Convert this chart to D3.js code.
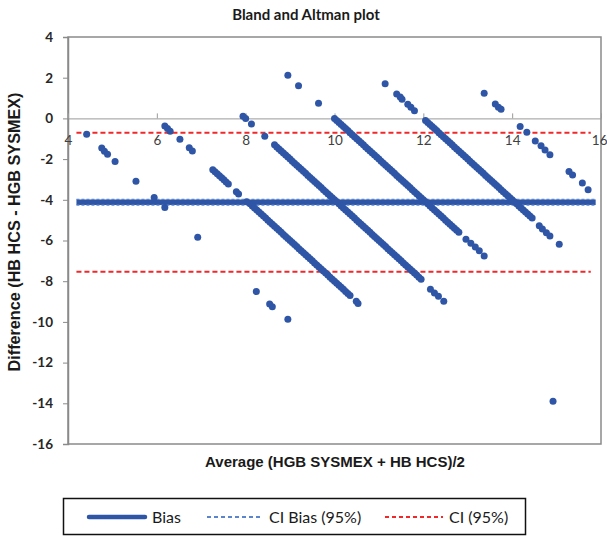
<!DOCTYPE html>
<html>
<head>
<meta charset="utf-8">
<script src="https://cdn.jsdelivr.net/npm/d3@7"></script>
<style>
  html, body { margin: 0; padding: 0; background: #fff; }
  svg { display: block; }
</style>
</head>
<body>
<div id="chart"></div>
<script>
// ---------------- DATA ----------------
const xTicks = [4, 6, 8, 10, 12, 14, 16];
const yTicks = [4, 2, 0, -2, -4, -6, -8, -10, -12, -14, -16];

const biasValue = -4.12;
const ciBiasUpper = -3.98;
const ciBiasLower = -4.26;
const ciUpper = -0.70;
const ciLower = -7.54;
const lineStartAvg = 4.19;
const biasEndAvg = 15.88;
const ciEndAvg = 15.77;

// points grouped by HB HCS level (average, difference)
const avgH4  = [4.42, 4.76, 4.82, 4.89, 5.06, 5.53, 5.94, 6.18, 6.92, 8.24, 8.54, 8.60, 8.95];
const diffH4 = [-0.78, -1.46, -1.62, -1.76, -2.12, -3.09, -3.89, -4.38, -5.84, -8.51, -9.12, -9.26, -9.87];

const avgH6  = [6.18, 6.24, 6.30, 6.52, 6.73, 6.80,
  7.26, 7.31, 7.36, 7.41, 7.46, 7.51, 7.56, 7.61, 7.79, 7.84, 8.02,
  8.10, 8.15, 8.20, 8.25, 8.30, 8.35, 8.40, 8.45, 8.50, 8.55, 8.60, 8.65, 8.70, 8.75, 8.80, 8.85, 8.90, 8.95, 9.00, 9.05,
  9.10, 9.15, 9.20, 9.25, 9.30, 9.35, 9.40, 9.45, 9.50, 9.55, 9.60, 9.65, 9.70, 9.75, 9.80, 9.85, 9.90, 9.95, 10.00, 10.05,
  10.10, 10.15, 10.20, 10.25, 10.30, 10.35, 10.49, 10.53];
const diffH6 = [-0.37, -0.50, -0.63, -1.02, -1.44, -1.60,
  -2.52, -2.62, -2.72, -2.82, -2.92, -3.02, -3.12, -3.22, -3.60, -3.72, -4.10,
  -4.2, -4.3, -4.4, -4.5, -4.6, -4.7, -4.8, -4.9, -5.0, -5.1, -5.2, -5.3, -5.4, -5.5, -5.6, -5.7, -5.8, -5.9, -6.0, -6.1,
  -6.2, -6.3, -6.4, -6.5, -6.6, -6.7, -6.8, -6.9, -7.0, -7.1, -7.2, -7.3, -7.4, -7.5, -7.6, -7.7, -7.8, -7.9, -8.0, -8.1,
  -8.2, -8.3, -8.4, -8.5, -8.6, -8.7, -8.98, -9.10];

const avgH8  = [7.94, 8.00, 8.13, 8.43,
  8.65, 8.70, 8.75, 8.80, 8.85, 8.90, 8.95, 9.00, 9.05, 9.10, 9.15, 9.20, 9.25, 9.30, 9.35, 9.40, 9.45, 9.50, 9.55, 9.60,
  9.65, 9.70, 9.75, 9.80, 9.85, 9.90, 9.95, 10.00, 10.05, 10.10, 10.15, 10.20, 10.25, 10.30, 10.35, 10.40, 10.45, 10.50,
  10.55, 10.60, 10.65, 10.70, 10.75, 10.80, 10.85, 10.90, 10.95, 11.00, 11.05, 11.10, 11.15, 11.20, 11.25, 11.30, 11.35,
  11.40, 11.45, 11.50, 11.55, 11.60, 11.65, 11.70, 11.75, 11.80, 11.85, 11.90, 11.95,
  12.16, 12.25, 12.34, 12.46, 14.92];
const diffH8 = [0.10, 0.00, -0.27, -0.88,
  -1.3, -1.4, -1.5, -1.6, -1.7, -1.8, -1.9, -2.0, -2.1, -2.2, -2.3, -2.4, -2.5, -2.6, -2.7, -2.8, -2.9, -3.0, -3.1, -3.2,
  -3.3, -3.4, -3.5, -3.6, -3.7, -3.8, -3.9, -4.0, -4.1, -4.2, -4.3, -4.4, -4.5, -4.6, -4.7, -4.8, -4.9, -5.0,
  -5.1, -5.2, -5.3, -5.4, -5.5, -5.6, -5.7, -5.8, -5.9, -6.0, -6.1, -6.2, -6.3, -6.4, -6.5, -6.6, -6.7,
  -6.8, -6.9, -7.0, -7.1, -7.2, -7.3, -7.4, -7.5, -7.6, -7.7, -7.8, -7.9,
  -8.40, -8.58, -8.74, -8.98, -13.90];

const avgH10  = [8.95, 9.19, 9.64,
  10.00, 10.05, 10.10, 10.15, 10.20, 10.25, 10.30, 10.35, 10.40, 10.45, 10.50, 10.55, 10.60, 10.65, 10.70, 10.75, 10.80,
  10.85, 10.90, 10.95, 11.00, 11.05, 11.10, 11.15, 11.20, 11.25, 11.30, 11.35, 11.40, 11.45, 11.50, 11.55, 11.60, 11.65,
  11.70, 11.75, 11.80, 11.85, 11.90, 11.95, 12.00, 12.05, 12.10, 12.15, 12.20, 12.25, 12.30, 12.35, 12.40, 12.45, 12.50,
  12.55, 12.60, 12.65, 12.70, 12.75, 12.80,
  12.96, 13.07, 13.17, 13.26, 13.37];
const diffH10 = [2.12, 1.60, 0.75,
  0.0, -0.1, -0.2, -0.3, -0.4, -0.5, -0.6, -0.7, -0.8, -0.9, -1.0, -1.1, -1.2, -1.3, -1.4, -1.5, -1.6,
  -1.7, -1.8, -1.9, -2.0, -2.1, -2.2, -2.3, -2.4, -2.5, -2.6, -2.7, -2.8, -2.9, -3.0, -3.1, -3.2, -3.3,
  -3.4, -3.5, -3.6, -3.7, -3.8, -3.9, -4.0, -4.1, -4.2, -4.3, -4.4, -4.5, -4.6, -4.7, -4.8, -4.9, -5.0,
  -5.1, -5.2, -5.3, -5.4, -5.5, -5.6,
  -5.94, -6.14, -6.32, -6.50, -6.76];

const avgH12  = [11.14, 11.40, 11.48, 11.52, 11.65, 11.72, 11.80,
  12.05, 12.10, 12.15, 12.20, 12.25, 12.30, 12.35, 12.40, 12.45, 12.50, 12.55, 12.60, 12.65, 12.70, 12.75, 12.80,
  12.85, 12.90, 12.95, 13.00, 13.05, 13.10, 13.15, 13.20, 13.25, 13.30, 13.35, 13.40, 13.45, 13.50, 13.55, 13.60,
  13.65, 13.70, 13.75, 13.80, 13.85, 13.90, 13.95, 14.00, 14.05, 14.10, 14.15, 14.20, 14.25, 14.30, 14.35, 14.40, 14.45,
  14.61, 14.68, 14.77, 14.85, 15.06];
const diffH12 = [1.70, 1.20, 1.05, 0.94, 0.70, 0.55, 0.38,
  -0.1, -0.2, -0.3, -0.4, -0.5, -0.6, -0.7, -0.8, -0.9, -1.0, -1.1, -1.2, -1.3, -1.4, -1.5, -1.6,
  -1.7, -1.8, -1.9, -2.0, -2.1, -2.2, -2.3, -2.4, -2.5, -2.6, -2.7, -2.8, -2.9, -3.0, -3.1, -3.2,
  -3.3, -3.4, -3.5, -3.6, -3.7, -3.8, -3.9, -4.0, -4.1, -4.2, -4.3, -4.4, -4.5, -4.6, -4.7, -4.8, -4.9,
  -5.28, -5.44, -5.62, -5.78, -6.18];

const avgH14  = [13.37, 13.62, 13.69, 13.75, 14.18, 14.33, 14.52, 14.65, 14.74, 14.85, 15.28, 15.36, 15.58, 15.71];
const diffH14 = [1.24, 0.71, 0.55, 0.45, -0.40, -0.68, -1.11, -1.35, -1.55, -1.79, -2.61, -2.78, -3.18, -3.51];

const legendLabels = ["Bias", "CI Bias (95%)", "CI (95%)"];

// ---------------- STYLE / LAYOUT ----------------
const W = 607, H = 536;
const blue = "#2f56a6";
const ciBlue = "#5b84cf";
const red = "#f0282a";
const gridGray = "#9a9a9a";

const svg = d3.select("#chart").append("svg").attr("width", W).attr("height", H);

const x = d3.scaleLinear().domain([4, 16]).range([68, 601]);
const y = d3.scaleLinear().domain([-16, 4]).range([444, 37]);

// plot border
svg.append("rect")
  .attr("x", x(4)).attr("y", y(4))
  .attr("width", x(16) - x(4)).attr("height", y(-16) - y(4))
  .attr("fill", "none").attr("stroke", "#8a8a8a").attr("stroke-width", 1.5);

// Y axis (left)
const yAxis = d3.axisLeft(y).tickValues(yTicks).tickSize(5).tickPadding(10).tickFormat(d3.format("d"));
const gy = svg.append("g").attr("transform", `translate(${x(4)},0)`).call(yAxis);
gy.select(".domain").attr("stroke", "#8a8a8a").attr("stroke-width", 1.5);
gy.selectAll(".tick line").attr("stroke", "#8a8a8a");
gy.selectAll(".tick text")
  .attr("font-family", "Lato, 'Open Sans', sans-serif")
  .attr("font-weight", "bold").attr("font-size", 13.5).attr("fill", "#262626")
  .text(d => d < 0 ? "-" + Math.abs(d) : d);

// X axis on the zero line
const xAxis = d3.axisBottom(x).tickValues(xTicks).tickSizeInner(-5).tickSizeOuter(0).tickPadding(17).tickFormat(d3.format("d"));
const gx = svg.append("g").attr("transform", `translate(0,${y(0)})`).call(xAxis);
gx.select(".domain").attr("stroke", gridGray).attr("stroke-width", 1);
gx.selectAll(".tick line").attr("stroke", gridGray);
gx.selectAll(".tick text")
  .attr("font-family", "Lato, 'Open Sans', sans-serif")
  .attr("font-size", 13.5).attr("fill", "#404040")
  .attr("text-anchor", d => d === 16 ? "end" : "middle")
  .attr("dx", d => d === 16 ? 6 : 0);

// reference lines
function hline(v, x0, x1, color, width, dash) {
  svg.append("line")
    .attr("x1", x(x0)).attr("x2", x(x1))
    .attr("y1", y(v)).attr("y2", y(v))
    .attr("stroke", color).attr("stroke-width", width)
    .attr("stroke-dasharray", dash || null);
}
hline(ciUpper, lineStartAvg, ciEndAvg, red, 2, "5,3");
hline(ciLower, lineStartAvg, ciEndAvg, red, 2, "5,3");
hline(biasValue, lineStartAvg, biasEndAvg, blue, 5.5, null);
hline(ciBiasUpper, lineStartAvg, biasEndAvg, ciBlue, 1.2, "3,2");
hline(ciBiasLower, lineStartAvg, biasEndAvg, ciBlue, 1.2, "3,2");

// points
const groups = [
  [avgH4, diffH4], [avgH6, diffH6], [avgH8, diffH8],
  [avgH10, diffH10], [avgH12, diffH12], [avgH14, diffH14]
];
const pts = [];
groups.forEach(([a, d]) => a.forEach((v, i) => pts.push({ avg: v, diff: d[i] })));

svg.append("g").selectAll("circle").data(pts).join("circle")
  .attr("cx", d => x(d.avg)).attr("cy", d => y(d.diff))
  .attr("r", 3.5).attr("fill", blue);

// titles
svg.append("text").attr("x", 306).attr("y", 20)
  .attr("text-anchor", "middle")
  .attr("font-family", "Lato, 'Open Sans', sans-serif")
  .attr("font-weight", "bold").attr("font-size", 15).attr("fill", "#1a1a1a")
  .text("Bland and Altman plot");

svg.append("text")
  .attr("transform", `translate(20,232) rotate(-90)`)
  .attr("text-anchor", "middle")
  .attr("font-family", "'Liberation Sans', Arial, sans-serif")
  .attr("font-weight", "bold").attr("font-size", 16.2).attr("fill", "#1a1a1a")
  .text("Difference  (HB HCS - HGB SYSMEX)");

svg.append("text").attr("x", 335).attr("y", 467)
  .attr("text-anchor", "middle")
  .attr("font-family", "'Liberation Sans', Arial, sans-serif")
  .attr("font-weight", "bold").attr("font-size", 15).attr("fill", "#1a1a1a")
  .text("Average (HGB SYSMEX + HB HCS)/2");

// legend
const lg = svg.append("g");
lg.append("rect").attr("x", 63.5).attr("y", 498.5).attr("width", 462).attr("height", 36)
  .attr("fill", "#fff").attr("stroke", "#111").attr("stroke-width", 1.5);
const legendItems = [
  { label: legendLabels[0], x0: 89, x1: 145, tx: 152, color: blue, w: 4.5, dash: null },
  { label: legendLabels[1], x0: 207, x1: 263, tx: 269, color: ciBlue, w: 2, dash: "4,3" },
  { label: legendLabels[2], x0: 385, x1: 443, tx: 449, color: red, w: 2, dash: "4,3" }
];
legendItems.forEach(it => {
  lg.append("line").attr("x1", it.x0).attr("x2", it.x1).attr("y1", 517).attr("y2", 517)
    .attr("stroke", it.color).attr("stroke-width", it.w)
    .attr("stroke-linecap", it.dash ? "butt" : "round")
    .attr("stroke-dasharray", it.dash);
  lg.append("text").attr("x", it.tx).attr("y", 522.5)
    .attr("font-family", "Lato, 'Open Sans', sans-serif")
    .attr("font-size", 16).attr("fill", "#1a1a1a")
    .text(it.label);
});
</script>
</body>
</html>
